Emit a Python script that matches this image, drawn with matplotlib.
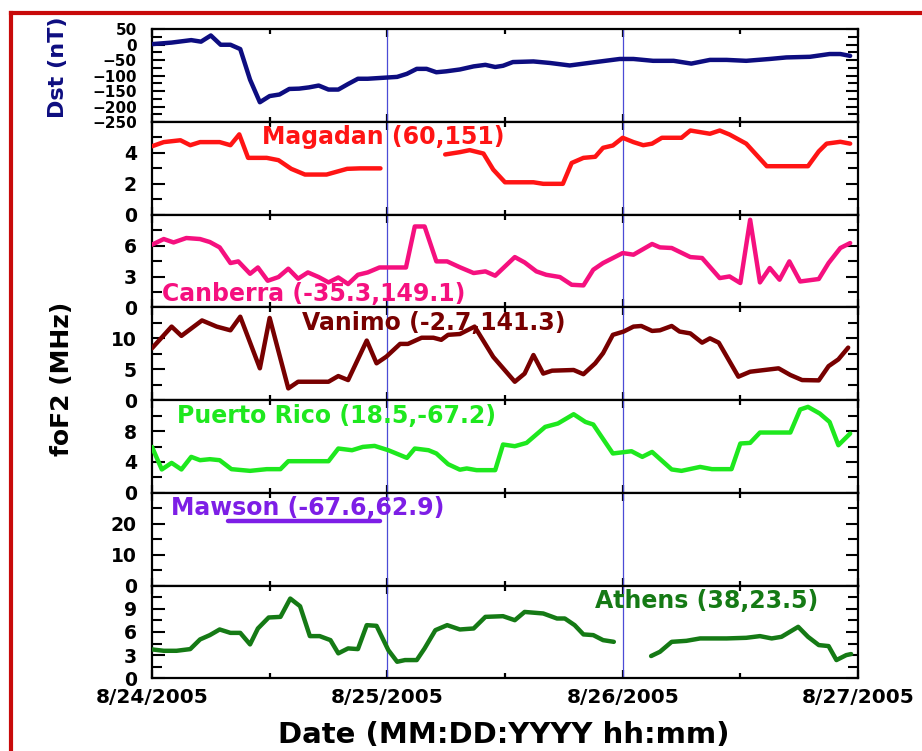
import numpy as np
import matplotlib
matplotlib.use("Agg")
import matplotlib.pyplot as plt
from matplotlib.lines import Line2D

plt.rcParams['font.family'] = ['DejaVu Sans']
plt.rcParams['font.weight'] = 'bold'

# hours since 8/24/2005 00:00 UT
day_labels = ['8/24/2005', '8/25/2005', '8/26/2005', '8/27/2005']

dst_h = [0, 2, 4, 5, 6, 7, 8, 9, 10, 11, 12, 13, 14, 15, 16, 17, 18, 19, 20, 21,
         22, 24, 25, 26, 27, 28, 29, 30, 31.4, 32.8, 34, 35, 35.8, 36.8, 38.9, 40.6,
         42.6, 45, 47.7, 49.1, 51.1, 53.2, 55, 56.9, 58.6, 60.6, 63, 64.7, 67.1, 69.1,
         70.2, 71.2]
dst_v = [2, 7, 15, 10, 30, 0, 0, -14, -113, -186, -166, -161, -143, -142, -138, -132,
         -145, -145, -127, -110, -110, -106, -104, -94, -78, -78, -89, -86, -80, -70,
         -65, -72, -68, -56, -54, -59, -67, -57, -46, -46, -52, -52, -61, -49, -49, -52,
         -46, -41, -39, -30, -30, -36]

magadan_h = [0, 1.2, 2.9, 3.9, 4.9, 6.9, 8.0, 8.9, 9.8, 11.7, 12.9, 14.2, 15.6, 17.8,
             19.9, 21.2, 23.3, 26.0,
             29.9, 31.4, 32.4, 33.8, 34.8, 36.0, 38.9, 39.9, 41.9, 42.8, 44.0, 45.2,
             46.0, 47.0, 48.0, 49.1, 50.1, 51.0, 52.0, 54.0, 54.9, 56.9, 57.9, 58.9,
             60.6, 62.7, 66.9, 68.0, 68.8, 70.2, 71.2]
magadan_v = [4.43, 4.7, 4.82, 4.5, 4.7, 4.7, 4.5, 5.2, 3.68, 3.68, 3.53, 2.97, 2.6, 2.6,
             2.97, 3.0, 3.0, np.nan,
             3.9, 4.05, 4.18, 3.96, 2.92, 2.1, 2.1, 2.0, 2.0, 3.35, 3.68, 3.75,
             4.33, 4.48, 4.98, 4.7, 4.5, 4.6, 4.98, 4.98, 5.45, 5.24, 5.45, 5.19,
             4.6, 3.14, 3.14, 4.1, 4.6, 4.72, 4.6]

canberra_h = [0, 1.2, 2.2, 3.5, 4.9, 5.9, 6.9, 8.0, 8.8, 10.0, 10.8, 11.8, 12.9, 13.9,
              14.9, 15.9, 17.0, 18.0, 19.0, 20.0, 21.0, 22.0, 23.2, 25.9, 26.8, 27.8,
              29.0, 30.1, 31.4, 32.8, 34.0, 35.0, 37.0, 38.0, 39.2, 40.2, 41.6, 42.8,
              44.0, 45.0, 46.0, 48.0, 49.1, 51.0, 51.8, 53.0, 54.9, 56.1, 57.9, 58.9,
              60.0, 61.0, 62.0, 63.0, 64.0, 65.0, 66.1, 68.0, 69.0, 70.2, 71.2]
canberra_v = [6.09, 6.64, 6.31, 6.74, 6.64, 6.35, 5.83, 4.31, 4.47, 3.27, 3.88, 2.59,
              2.95, 3.76, 2.79, 3.4, 2.95, 2.43, 2.91, 2.27, 3.17, 3.4, 3.88, 3.88, 7.86,
              7.86, 4.47, 4.47, 3.9, 3.34, 3.5, 3.08, 4.89, 4.37, 3.5, 3.17, 2.95, 2.2,
              2.14, 3.66, 4.31, 5.28, 5.12, 6.16, 5.83, 5.77, 4.89, 4.8, 2.85, 3.01,
              2.37, 8.51, 2.43, 3.83, 2.69, 4.47, 2.52, 2.76, 4.31, 5.77, 6.25]

vanimo_h = [0, 2, 3, 5.1, 6.6, 8, 9, 11, 12, 13.9, 14.9, 16.8, 18, 19, 20, 21.9, 22.9,
            23.9, 25.3, 26.1, 27.5, 28.7, 29.5, 30.2, 31.4, 32.9, 34.8, 37, 38, 38.9,
            39.9, 40.8, 43, 44, 45.2, 46, 47, 48.1, 49.1, 49.9, 51, 51.8, 53, 53.8,
            54.9, 56.1, 56.9, 57.8, 59.8, 61, 63.9, 65.1, 66.3, 68, 69, 70, 71]
vanimo_v = [8.4, 11.9, 10.4, 12.9, 11.9, 11.3, 13.5, 5.15, 13.3, 1.9, 2.98, 2.98, 2.98,
            3.9, 3.25, 9.64, 5.96, 7.04, 9.1, 9.1, 10.1, 10.1, 9.76, 10.57, 10.7, 11.9,
            7.0, 2.98, 4.3, 7.3, 4.3, 4.77, 4.88, 4.2, 5.96, 7.6, 10.57, 11.1, 11.9,
            12.0, 11.2, 11.3, 12.0, 11.1, 10.8, 9.3, 10.0, 9.3, 3.8, 4.6, 5.15, 4.07,
            3.25, 3.2, 5.5, 6.6, 8.5]

prico_h = [0, 1, 2, 3, 4, 4.9, 5.9, 6.9, 8.1, 10, 11.7, 13.1, 13.9, 18, 19, 20.4, 21.5,
           22.7, 24.1, 26, 26.8, 28.2, 29, 30.2, 31.4, 32.1, 33.1, 35, 35.8, 37, 38.2,
           40.1, 41.4, 43, 44.2, 45, 47, 48.9, 50, 51, 53, 54, 55.9, 57.1, 59.1, 60,
           61, 62, 65.1, 66.1, 66.9, 68.1, 69.1, 70, 71.2]
prico_v = [5.95, 3.03, 3.88, 3.03, 4.66, 4.23, 4.36, 4.23, 3.07, 2.85, 3.07, 3.07, 4.1,
           4.1, 5.74, 5.52, 5.95, 6.08, 5.52, 4.53, 5.74, 5.52, 5.1, 3.71, 3.0, 3.16,
           2.94, 2.94, 6.26, 6.04, 6.47, 8.54, 8.98, 10.18, 9.18, 8.85, 5.1, 5.39, 4.66,
           5.3, 3.03, 2.85, 3.36, 3.07, 3.07, 6.39, 6.47, 7.81, 7.81, 10.79, 11.13,
           10.27, 9.18, 6.17, 7.68]

mawson_h = [7.8, 23.3]
mawson_v = [20.8, 20.8]

athens_h = [0, 1.2, 2.5, 3.9, 4.9, 5.9, 6.9, 8.0, 9.0, 10.0, 10.8, 11.9, 13.1, 14.1,
            15.1, 16.1, 17.1, 18.2, 19.0, 20.0, 21.0, 21.9, 22.9, 24.1, 25.0, 25.8,
            27.0, 27.8, 28.9, 30.1, 31.4, 32.8, 34.0, 35.8, 37.0, 38.0, 39.9, 41.3,
            42.1, 43.1, 44.0, 45.0, 46.0, 47.1, 49.0,
            50.9, 51.8, 53.0, 54.5, 55.9, 58.6, 60.6, 62.0, 63.2, 64.2, 65.9, 66.9,
            68.0, 69.0, 69.8, 70.8, 71.3]
athens_v = [3.74, 3.56, 3.56, 3.78, 5.03, 5.59, 6.32, 5.88, 5.88, 4.39, 6.45, 7.87,
            7.95, 10.32, 9.33, 5.46, 5.46, 4.94, 3.23, 3.87, 3.78, 6.88, 6.79, 3.65,
            2.14, 2.36, 2.36, 3.87, 6.23, 6.88, 6.32, 6.45, 7.95, 8.04, 7.52, 8.59,
            8.39, 7.74, 7.74, 6.88, 5.68, 5.59, 4.94, 4.72, np.nan,
            2.88, 3.43, 4.72, 4.85, 5.16, 5.16, 5.24, 5.46, 5.16, 5.37, 6.66, 5.37,
            4.3, 4.17, 2.36, 3.0, 3.14]

# name, hours, values, colour, y-limits, major ticks, minor ticks, label position
panels = [
    (None, dst_h, dst_v, '#0d0d80', (-250, 50), [-250, -200, -150, -100, -50, 0, 50],
     np.arange(-225, 50, 50), None),
    ('Magadan (60,151)', magadan_h, magadan_v, '#ff1414', (0, 6), [0, 2, 4], [1, 3, 5],
     (0.156, 0.758)),
    ('Canberra (-35.3,149.1)', canberra_h, canberra_v, '#f5107f', (0, 9), [0, 3, 6],
     [1.5, 4.5, 7.5], (0.014, 0.065)),
    ('Vanimo (-2.7,141.3)', vanimo_h, vanimo_v, '#780000', (0, 15), [0, 5, 10],
     [2.5, 7.5, 12.5], (0.212, 0.758)),
    ('Puerto Rico (18.5,-67.2)', prico_h, prico_v, '#1ee81e', (0, 12), [0, 4, 8],
     [2, 6, 10], (0.035, 0.755)),
    ('Mawson (-67.6,62.9)', mawson_h, mawson_v, '#7d1ee6', (0, 30), [0, 10, 20],
     [5, 15, 25], (0.0265, 0.759)),
    ('Athens (38,23.5)', athens_h, athens_v, '#157a15', (0, 12), [0, 3, 6, 9],
     [1.5, 4.5, 7.5, 10.5], (0.627, 0.763)),
]

W, H = 922, 751
fig = plt.figure(figsize=(W / 100, H / 100), dpi=100)

x0, x1 = 152 / W, 858 / W
y_top, y_bot = 29.3 / H, 678.3 / H
ph = (y_bot - y_top) / len(panels)

for i, (name, hrs, vals, col, ylim, major, minor, pos) in enumerate(panels):
    ax = fig.add_axes([x0, 1 - y_top - (i + 1) * ph, x1 - x0, ph])
    ax.plot(hrs, vals, color=col, lw=3.2, solid_joinstyle='round',
            solid_capstyle='round', zorder=3)
    for d in (24, 48):
        ax.axvline(d, color='#4b4bd6', lw=0.9, zorder=2)

    ax.set_xlim(0, 72)
    ax.set_ylim(*ylim)
    ax.set_xticks([0, 24, 48, 72])
    ax.set_xticks([12, 36, 60], minor=True)
    ax.set_yticks(major)
    ax.set_yticks(minor, minor=True)

    ax.tick_params(axis='x', which='both', direction='in', top=True, bottom=True,
                   width=1.6, labelsize=14.5, pad=7)
    ax.tick_params(axis='x', which='major', length=6)
    ax.tick_params(axis='x', which='minor', length=3.5)
    # the Dst scale has seven labels in one panel, so they are set smaller
    ax.tick_params(axis='y', which='both', direction='in', left=True, right=True,
                   width=1.5, labelsize=11 if name is None else 13.5, pad=11)
    ax.tick_params(axis='y', which='major', length=9)
    ax.tick_params(axis='y', which='minor', length=7)
    for sp in ax.spines.values():
        sp.set_linewidth(1.6)

    if i == len(panels) - 1:
        ax.set_xticklabels(day_labels)
    else:
        ax.set_xticklabels([])

    if name:
        ax.text(pos[0], pos[1], name, transform=ax.transAxes, color=col,
                fontsize=17, fontweight='bold', ha='left', va='baseline', zorder=4)

fig.text(58 / W, 1 - 67 / H, 'Dst (nT)', rotation=90, ha='center', va='center',
         color='#0d0d80', fontsize=16, fontweight='bold')
fig.text(62 / W, 1 - 379 / H, 'foF2 (MHz)', rotation=90, ha='center', va='center',
         color='black', fontsize=18, fontweight='bold')
fig.text(504 / W, 1 - 735 / H, 'Date (MM:DD:YYYY hh:mm)', ha='center', va='center',
         color='black', fontsize=21, fontweight='bold')

# red frame (top and left edges)
fx, fy = 10.5 / W, 1 - 12.7 / H
fig.add_artist(Line2D([fx, 1.0], [fy, fy], transform=fig.transFigure,
                      color='#c80a0a', lw=3))
fig.add_artist(Line2D([fx, fx], [0, fy], transform=fig.transFigure,
                      color='#c80a0a', lw=3))

fig.savefig('out.png', dpi=100)
